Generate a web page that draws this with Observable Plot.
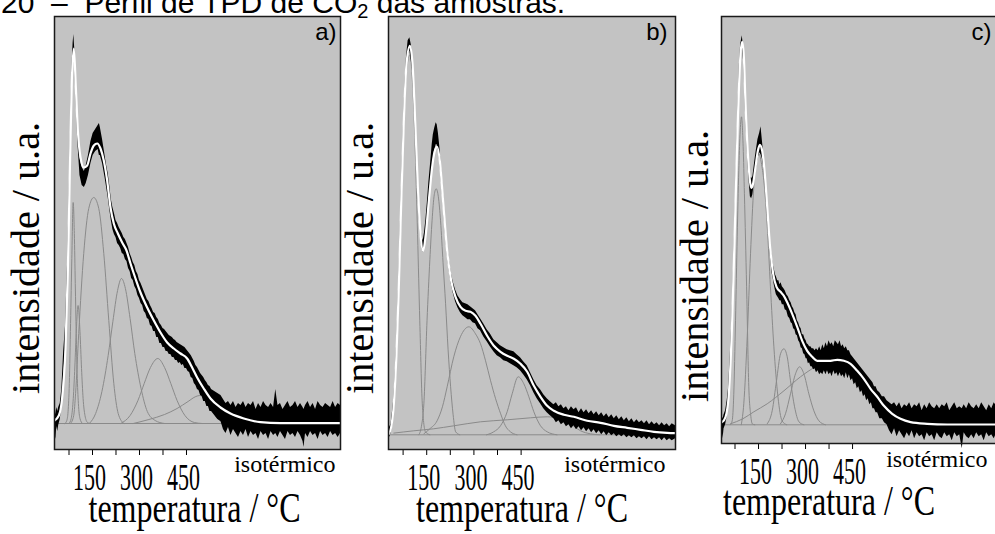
<!DOCTYPE html>
<html><head><meta charset="utf-8">
<script src="https://cdn.jsdelivr.net/npm/d3@7"></script>
<script src="https://cdn.jsdelivr.net/npm/@observablehq/plot@0.6"></script>
<style>
html,body{margin:0;padding:0;background:#fff;overflow:hidden;}
#root{position:relative;width:995px;height:534px;overflow:hidden;background:#fff;}
.panel{position:absolute;top:0;}
#title{position:absolute;left:1px;top:-12px;font-family:"Liberation Sans",Arial,sans-serif;font-size:30px;line-height:30px;white-space:pre;color:#000;}
#title sub{font-size:20px;vertical-align:-5px;line-height:0;}
</style></head>
<body><div id="root"><div id="title">20  –  Perfil de TPD de CO<sub>2</sub> das amostras.</div></div>
<script>
// ---------- texts / ticks ----------
const tickTemps = [75, 150, 225, 300, 375, 450];
const tickLabels = [150, 300, 450];
const panelLetters = ["a)", "b)", "c)"];
const xLabel = "temperatura / °C";
const yLabel = "intensidade / u.a.";
const isoLabel = "isotérmico";

// ---------- panel a ----------
const aFit = [[28.7,3],[42.6,8],[53.2,26],[63.8,76],[71.3,153],[77.7,253],[84,343],[90.4,375],[96.8,336],[103.2,293],[111.7,266],[122.3,256],[133,258],[143.6,270],[154.3,278],[165,280],[175.5,275],[186,263],[196.8,243],[207.4,216],[218,200],[230.9,190],[244.7,181],[258.5,173],[271.3,160],[287.2,145],[303.2,131],[324.5,116],[345.7,103],[367,91],[388.3,81],[409.6,75],[430.9,70],[452,65],[468,56],[484,46],[505,35],[526.6,25],[558.5,16],[590.4,10],[633,5],[686,1.3],[750,0.3],[941.6,0.3]];
const aBand = [[28.7,-4,14],[31,-12,8],[33,-16,10],[36,-3,16],[39,-8,12],[42,-2,16],[47,4,20],[52,16,34],[58,48,72],[64,74,98],[71,148,166],[78,248,264],[84,336,352],[88,364,380],[90.4,368,389],[93,356,376],[97,328,344],[103,282,298],[110,248,266],[117,238,256],[124,236,252],[130,240,258],[137,248,268],[145,260,282],[152,268,290],[160,272,294],[168,274,298],[172,268,300],[175,268,296],[182,260,284],[190,246,268],[195,236,258],[200,226,250],[205,214,238],[210,203,224],[215,194,216],[220,189,210],[225,186,203],[230,180,200],[235,178,196],[240,175,193],[245,170,190],[250,169,186],[255,164,184],[260,162,180],[265,155,176],[270,152,170],[275,145,166],[280,143,161],[285,137,158],[290,134,152],[295,128,149],[300,125,143],[305,120,140],[310,118,136],[315,112,132],[320,110,128],[325,105,124],[330,104,122],[335,98,118],[340,97,115],[345,92,111],[350,92,110],[355,86,106],[360,86,104],[365,80,100],[370,80,98],[375,76,95],[380,76,94],[385,72,92],[390,72,90],[395,69,88],[400,69,87],[405,66,86],[410,66,84],[415,63,83],[420,63,81],[425,60,80],[430,61,79],[435,58,78],[440,59,77],[445,55,76],[450,55,74],[455,52,72],[460,51,70],[465,46,68],[470,45,65],[475,40,62],[480,38,58],[485,34,56],[490,33,53],[495,28,50],[500,27,48],[505,22,46],[510,22,43],[515,17,41],[520,17,38],[525,12,37],[530,12,34],[540,8,32],[550,4,30],[560,2,28],[568,-6,24],[576,-10,20],[584,-4,22],[592,-12,18],[600,-6,22],[608,-10,16],[616,-14,20],[624,-8,18],[632,-12,22],[640,-6,16],[648,-14,20],[656,-8,18],[664,-12,22],[672,-10,14],[680,-16,20],[688,-8,16],[696,-12,22],[704,-10,18],[712,-16,16],[720,-8,20],[728,-12,16],[735,-10,34],[742,-14,18],[750,-8,20],[758,-12,14],[766,-16,18],[774,-8,22],[782,-12,16],[790,-10,18],[798,-14,22],[806,-8,16],[814,-12,20],[822,-18,16],[825,-24,14],[830,-10,18],[838,-14,22],[846,-8,16],[854,-12,20],[862,-10,14],[870,-16,22],[878,-8,18],[886,-12,16],[894,-10,20],[902,-14,18],[910,-8,16],[918,-12,22],[926,-10,16],[934,-14,20],[941.6,-10,18]];
const aComp1 = [[62,0],[68,3],[72,12],[76,40],[80,100],[84,165],[88.3,221],[92,190],[95,140],[98,90],[101,50],[105,20],[110,5],[118,0]];
const aComp2 = [[75,0],[82,5],[88,22],[93,52],[98,90],[104,118],[110,92],[115,55],[120,25],[126,8],[134,1],[142,0]];
const aComp3 = [[80,0],[90,8],[96,30],[106,90],[122,170],[138,215],[154,226],[170,215],[186,170],[202,103],[218,40],[232,10],[250,0]];
const aComp4 = [[140,0],[160,10],[180,32],[200,68],[215,102],[230,133],[242.5,145],[255,135],[270,105],[285,70],[305,35],[325,12],[350,3],[380,0]];
const aComp5 = [[240,0],[270,8],[295,23],[315,40],[335,56],[358.5,65],[380,56],[400,40],[420,23],[445,8],[475,1],[500,0]];
const aComp6 = [[280,0],[330,4],[380,9],[420,15],[455,22],[480,27],[492.5,28],[505,26],[520,20],[535,12],[550,5],[570,1],[590,0]];

// ---------- panel b ----------
const bFit = [[29.7,1],[37,7.7],[45.6,31],[54,81],[61.4,148],[68.9,231],[77.3,314],[85.8,371],[96.4,389],[104.9,371],[113.3,314],[121.8,248],[130.3,201],[138.7,184],[147.2,201],[156.8,234],[167.4,268],[175,283],[183.3,288],[191.7,274],[202,234],[215,184],[227.8,154],[241.5,138],[257.4,128],[273.3,124],[289,123],[305,119],[321,111],[342,99],[363.3,89],[384.5,83],[405.7,79],[426.9,76],[448,71],[469.3,63],[490.5,49],[511.7,38],[532.8,29],[554,24],[586,20],[617.6,18],[660,14],[702.4,12],[744.7,9],[787,7],[829.4,5],[872,3],[914,2],[940.6,1.7]];
const bBand = [[28.6,-4,6],[33,-2,8],[37,2,11],[41,10,22],[45.6,24,36],[50,45,60],[54,74,88],[58,105,122],[61.4,140,155],[65,180,196],[68.9,224,238],[73,265,280],[77.3,306,320],[81,340,352],[85.8,364,378],[91,380,394],[96.4,384,397],[101,374,390],[104.9,364,378],[109,338,350],[113.3,306,320],[117,276,290],[121.8,242,256],[126,218,230],[130.3,198,212],[135,186,198],[138.7,182,194],[143,188,202],[147.2,198,214],[152,214,232],[156.8,232,252],[162,250,270],[167.4,266,290],[171,276,300],[175,284,306],[180,290,312],[183.3,290,310],[187,284,302],[191.7,272,288],[197,252,266],[202,232,246],[208,206,220],[215,181,192],[221,165,177],[227.8,151,162],[234,142,153],[241.5,133,145],[249,127,139],[257.4,122,135],[265,119,132],[273.3,117,131],[281,115,130],[289,115,128],[297,112,126],[305,111,124],[313,106,120],[321,104,116],[331,98,111],[342,93,105],[352,88,101],[363.3,83,95],[374,79,92],[384.5,77,89],[395,74,87],[405.7,73,85],[416,71,84],[426.9,69,83],[437,67,80],[448,64,77],[458,60,73],[469.3,55,69],[480,49,62],[490.5,42,55],[501,36,49],[511.7,31,45],[522,26,40],[532.8,22,36],[543,19,33],[554,16,30],[562,12,32],[570,14,28],[578,10,30],[586,12,26],[594,8,28],[602,10,24],[610,6,28],[618,9,25],[626,5,27],[634,8,22],[642,4,26],[650,7,22],[658,3,25],[666,6,21],[674,2,24],[682,5,20],[690,1,23],[698,4,19],[706,0,22],[714,3,18],[722,-1,21],[730,2,17],[738,-1,20],[746,1,16],[754,-2,19],[762,0,15],[770,-2,18],[778,0,14],[786,-3,17],[794,-1,13],[802,-3,16],[810,-1,12],[818,-4,15],[826,-2,12],[834,-4,14],[842,-2,11],[850,-5,14],[858,-2,10],[866,-5,13],[874,-3,10],[882,-5,12],[890,-3,9],[898,-6,12],[906,-3,9],[914,-6,11],[922,-4,8],[930,-6,11],[940.6,-4,9]];
const bComp1 = [[30,0],[37,6],[45.6,29],[54,78],[61,144],[69,226],[77,308],[86,364],[96,380],[105,352],[113,290],[121,200],[128,114],[136,31],[146,3],[160,0]];
const bComp2 = [[125,0],[133,8],[141,31],[151,114],[160,175],[167,214],[174,240],[180,246],[187,238],[194,214],[202,172],[210,131],[218,85],[226,48],[234,20],[242,3],[255,0]];
const bComp3 = [[141,1],[160,6],[183,14],[200,28],[215,48],[236,78],[257,98],[284,108],[305,101],[321,91],[337,74],[353,54],[369,36],[385,21],[400,9],[416,3],[437,0]];
const bComp4 = [[340,0],[363,3],[384.5,9],[405.7,23],[421.6,41],[440.7,58],[458.7,51],[474.6,38],[490.5,23],[511.7,9],[532.8,3],[564,0]];
const bComp5 = [[45.6,1.7],[109,4],[172,6],[236,9],[321,13],[405.7,15],[480,17],[533,18],[575,16],[607,11],[639,4],[670,1],[700,0]];

// ---------- panel c ----------
const cFit = [[31.9,2.5],[34,2.7],[44.7,7.7],[55.3,31],[66,104],[76.6,221],[84,304],[92.5,371],[97.9,383],[103.2,368],[108.5,321],[116,271],[124.5,240],[128,237],[132,240],[140.4,258],[148,274],[154,280],[161.7,274],[170,251],[177.7,218],[186,181],[196.8,151],[207.4,138],[220.2,133],[230.9,129],[243.6,121],[257.4,111],[273.4,98],[289.4,84],[305.3,74],[321.3,68],[337.2,64],[358.5,64],[379.8,64],[401,65],[422.3,64],[443.6,61],[464.9,54],[486,46],[507.4,36],[528.7,28],[550,19],[576.6,11],[603,6],[635,2.7],[688,1],[752,0.3],[922,0.3]];
const cBand = [[31.9,-8,8],[34,-6,8],[37,-14,6],[40,-4,10],[45,0,14],[50,8,24],[55,26,38],[60,55,70],[66,98,110],[72,160,175],[77,215,228],[84,298,310],[89,345,360],[93,368,380],[98,376,389],[103,362,376],[108,315,328],[112,288,300],[116,262,280],[120,244,262],[124,228,248],[128,226,246],[132,230,248],[136,240,258],[140,250,268],[148,266,285],[154,272,292],[158,270,298],[162,266,285],[166,258,272],[170,244,258],[174,228,242],[178,210,224],[182,192,206],[186,174,188],[190,162,176],[193,152,168],[197,146,160],[200,140,156],[204,134,150],[207,130,148],[211,128,144],[215,126,144],[218,124,140],[222,124,142],[226,120,138],[231,120,136],[235,115,134],[240,114,130],[245,108,128],[250,106,124],[254,102,122],[258,101,118],[262,96,116],[266,95,112],[270,90,110],[274,89,104],[278,84,102],[282,82,98],[286,77,96],[290,76,90],[294,71,90],[298,70,86],[302,66,84],[305,66,81],[309,61,80],[313,62,78],[317,58,78],[321,58,76],[326,55,76],[330,56,74],[335,52,76],[340,54,74],[345,50,78],[350,52,74],[355,50,80],[360,54,76],[365,50,82],[370,54,78],[375,50,84],[380,52,80],[385,48,82],[390,54,78],[395,50,84],[400,52,82],[405,48,80],[410,52,84],[415,48,78],[420,50,80],[425,46,76],[430,52,78],[435,46,74],[440,50,74],[445,44,70],[450,46,68],[455,40,66],[460,42,64],[465,36,62],[470,38,60],[475,32,58],[480,34,56],[485,28,54],[490,30,52],[495,24,50],[500,26,48],[505,20,46],[510,22,44],[515,16,42],[520,16,38],[525,12,38],[530,12,34],[537,6,32],[545,6,28],[552,2,28],[560,0,24],[568,-6,22],[576,-10,20],[584,-4,22],[592,-12,18],[600,-6,22],[608,-10,16],[616,-14,20],[624,-8,18],[632,-12,22],[640,-6,16],[648,-14,20],[656,-8,18],[664,-12,22],[672,-10,14],[680,-16,20],[688,-8,16],[696,-12,22],[704,-10,18],[712,-16,16],[720,-8,20],[728,-12,16],[736,-14,20],[744,-8,18],[752,-12,22],[760,-10,14],[768,-16,18],[776,-8,22],[784,-12,16],[792,-10,18],[800,-24,16],[806,-8,20],[814,-12,16],[822,-14,22],[830,-10,18],[838,-14,16],[846,-8,20],[854,-12,16],[862,-10,22],[870,-16,18],[878,-8,14],[886,-12,20],[894,-10,16],[902,-14,22],[910,-8,18],[918,-12,16],[922,-10,18]];
const cComp1 = [[60,0],[66,4],[71,30],[76.6,104],[82,188],[87,254],[91,290],[95.7,308],[101,278],[105,231],[112,138],[119,38],[125,10],[130,1],[138,0]];
const cComp2 = [[95,0],[103,21],[114,88],[124.5,171],[135,238],[143,262],[151,271],[159,262],[167,244],[178,198],[188,138],[199,78],[212,28],[225,4],[240,0]];
const cComp3 = [[177.7,1],[193.6,14],[207.4,44],[220.2,71],[230.9,76],[241.5,68],[252,44],[265,18],[279,3],[294.7,0]];
const cComp4 = [[220,1],[236,11],[252,31],[268,51],[281,58],[294.7,51],[310.6,31],[326.6,14],[342.6,4],[363.8,0]];
const cComp5 = [[60.6,1],[100,6],[135,13],[177.7,21],[231,34],[284,48],[332,58],[369,63],[411.7,65],[443.6,61],[465,54],[486,46],[507,36],[529,28],[550,19],[577,11],[603,6],[635,2.7],[688,1],[720,0]];

// ---------- layout (positions only) ----------
const panels = [
  {letter: panelLetters[0], fit: aFit, band: aBand, comps: [aComp1,aComp2,aComp3,aComp4,aComp5,aComp6],
   left: 0, width: 350, ml: 54, mr: 10, mb: 85, xd: [28.7, 941.6], yd: [-26, 407],
   letterDx: -4, isoDx: -5, isoDy: 15, xlDx: -3, xlDy: 59, ylDx: -28, ylDy: 25},
  {letter: panelLetters[1], fit: bFit, band: bBand, comps: [bComp1,bComp2,bComp3,bComp4,bComp5],
   left: 345, width: 340, ml: 43, mr: 10, mb: 85, xd: [28.6, 940.6], yd: [-14.7, 418.3],
   letterDx: -8, isoDx: -10, isoDy: 15, xlDx: -10, xlDy: 59, ylDx: -28, ylDy: 25},
  {letter: panelLetters[2], fit: cFit, band: cBand, comps: [cComp1,cComp2,cComp3,cComp4,cComp5],
   left: 680, width: 330, ml: 41, mr: 10, mb: 91, xd: [31.9, 922], yd: [-18.7, 408.3],
   letterDx: -9, isoDx: -13, isoDy: 16, xlDx: -32, xlDy: 58, ylDx: -26, ylDy: 36}
];

const serif = "'Liberation Serif', 'Times New Roman', serif";
const sans = "'Liberation Sans', Arial, sans-serif";

function condense(svg) {
  svg.querySelectorAll("text").forEach(el => {
    const s = el.textContent;
    if (/^\d+$/.test(s)) {
      el.style.fontSize = "38px";
      el.setAttribute("dx", -3);
      el.setAttribute("textLength", 11 * s.length);
      el.setAttribute("lengthAdjust", "spacingAndGlyphs");
    } else if (s === xLabel) {
      el.style.fontSize = "42px";
      el.setAttribute("textLength", 212);
      el.setAttribute("lengthAdjust", "spacingAndGlyphs");
    } else if (s === yLabel) {
      el.style.fontSize = "40px";
      el.setAttribute("textLength", 272);
      el.setAttribute("lengthAdjust", "spacingAndGlyphs");
    }
  });
}

const root = document.getElementById("root");
panels.forEach(p => {
  const comps = p.comps.flatMap((c, k) => c.map(([t, v]) => ({t, v, k})));
  const band = p.band.map(([t, lo, hi]) => ({t, lo, hi}));
  const fit = p.fit.map(([t, v]) => ({t, v}));
  const svg = Plot.plot({
    width: p.width, height: 534,
    marginLeft: p.ml, marginRight: p.mr, marginTop: 16, marginBottom: p.mb,
    style: {fontFamily: serif, fontSize: "20px", color: "#000", background: "transparent", overflow: "visible"},
    x: {domain: p.xd, ticks: tickTemps, tickFormat: d => tickLabels.includes(d) ? String(d) : "", tickSize: 6, tickPadding: 8, label: null},
    y: {domain: p.yd, axis: null},
    marks: [
      Plot.frame({fill: "#c3c3c3", stroke: null}),
      Plot.ruleY([0], {stroke: "#8a8a8a", strokeWidth: 1}),
      Plot.line(comps, {x: "t", y: "v", z: "k", stroke: "#8a8a8a", strokeWidth: 1, curve: "monotone-x"}),
      Plot.areaY(band, {x: "t", y1: "lo", y2: "hi", fill: "#000", curve: "linear"}),
      Plot.line(fit, {x: "t", y: "v", stroke: "#fff", strokeWidth: 2.2, curve: "monotone-x"}),
      Plot.frame({stroke: "#1a1a1a", strokeWidth: 1.5}),
      Plot.text([p.letter], {text: d => d, frameAnchor: "top-right", textAnchor: "end", lineAnchor: "top", dx: p.letterDx, dy: 6, fontFamily: sans, fontSize: 24, fill: "#000"}),
      Plot.text([isoLabel], {text: d => d, frameAnchor: "bottom-right", textAnchor: "end", lineAnchor: "middle", dx: p.isoDx, dy: p.isoDy, fontSize: 24, fill: "#000"}),
      Plot.text([xLabel], {text: d => d, frameAnchor: "bottom", textAnchor: "middle", lineAnchor: "middle", dx: p.xlDx, dy: p.xlDy, fontSize: 42, fill: "#000"}),
      Plot.text([yLabel], {text: d => d, frameAnchor: "left", rotate: -90, textAnchor: "middle", lineAnchor: "middle", dx: p.ylDx, dy: p.ylDy, fontSize: 40, fill: "#000"})
    ]
  });
  const div = document.createElement("div");
  div.className = "panel";
  div.style.left = p.left + "px";
  div.style.width = p.width + "px";
  div.appendChild(svg);
  root.appendChild(div);
  condense(svg);
});
</script></body></html>
